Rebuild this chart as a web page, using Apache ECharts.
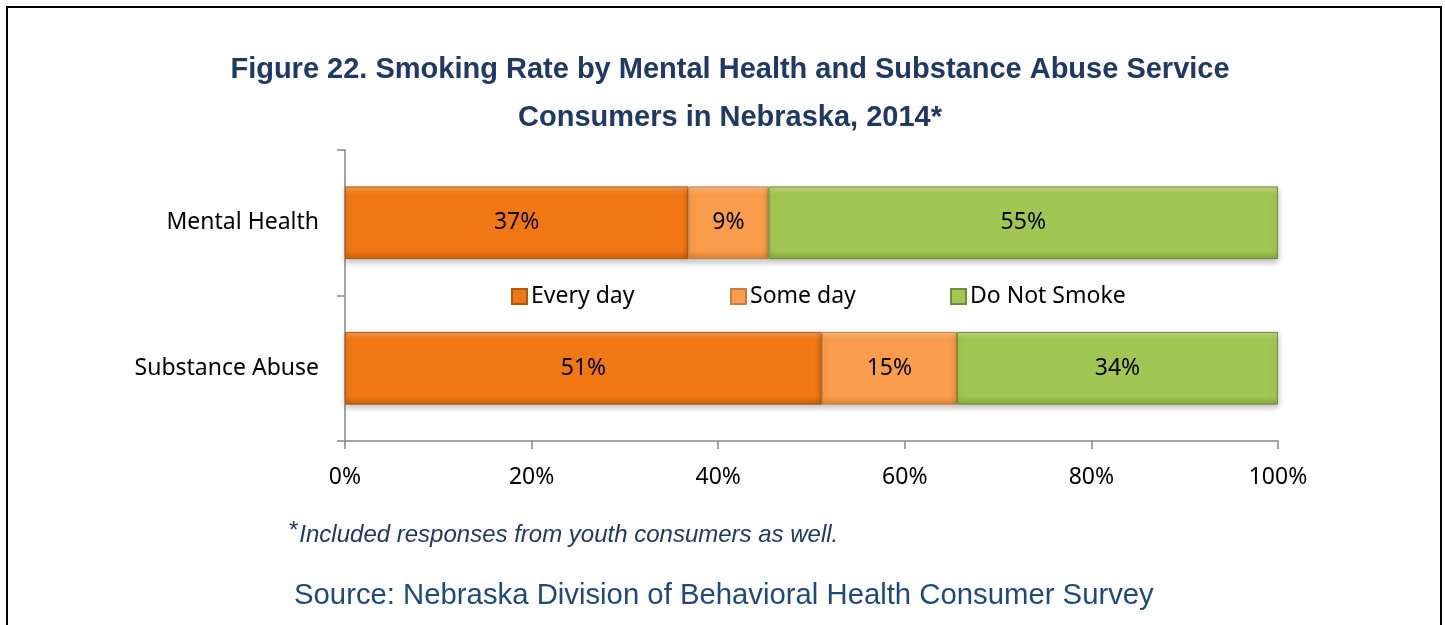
<!DOCTYPE html>
<html>
<head>
<meta charset="utf-8">
<script src="https://cdn.jsdelivr.net/npm/echarts@6/dist/echarts.min.js"></script>
<style>
html,body{margin:0;padding:0;background:#fff;}
#chart{width:1445px;height:625px;}
</style>
</head>
<body>
<div id="chart"></div>
<script>
const categories = ['Mental Health', 'Substance Abuse'];
const seriesNames = ['Every day', 'Some day', 'Do Not Smoke'];
const everyDay = [36.8, 51.1];
const someDay = [8.6, 14.5];
const doNotSmoke = [54.6, 34.4];
const xTicks = [0, 20, 40, 60, 80, 100];

const titleLines = ['Figure 22. Smoking Rate by Mental Health and Substance Abuse Service', 'Consumers in Nebraska, 2014*'];
const footnote = 'Included responses from youth consumers as well.';
const sourceText = 'Source: Nebraska Division of Behavioral Health Consumer Survey';

const FONT = '"Noto Sans", "Open Sans", sans-serif';
const ARIAL = '"Liberation Sans", Arial, sans-serif';

function grad(top, mid, bottom) {
  return new echarts.graphic.LinearGradient(0, 0, 0, 1, [
    {offset: 0, color: top},
    {offset: 0.12, color: mid},
    {offset: 0.88, color: mid},
    {offset: 1, color: bottom}
  ]);
}
const styles = [
  {color: grad('#F6994A', '#F07714', '#C8600F'), borderColor: '#B4570E'},
  {color: grad('#FBB877', '#F99D4C', '#D9833B'), borderColor: '#C9803F'},
  {color: grad('#BEDA80', '#A2C653', '#86A843'), borderColor: '#6F8D36'}
];
const values = [everyDay, someDay, doNotSmoke];

const chart = echarts.init(document.getElementById('chart'));
const series = seriesNames.map((name, i) => ({
  name: name,
  type: 'bar',
  stack: 'total',
  barWidth: '50%',
  data: values[i],
  itemStyle: {
    color: styles[i].color,
    borderColor: styles[i].borderColor,
    borderWidth: 1,
    shadowColor: 'rgba(0,0,0,0.25)',
    shadowBlur: 6,
    shadowOffsetY: 3
  },
  label: {
    show: true,
    position: 'inside',
    color: '#000',
    fontFamily: FONT,
    fontSize: 23,
    padding: [5, 0, 0, 0],
    formatter: p => Math.round(p.value) + '%'
  }
}));

const legendLefts = [506, 725, 945];
const legends = seriesNames.map((name, i) => ({
  data: [name],
  left: legendLefts[i],
  top: 280,
  itemWidth: 15,
  itemHeight: 15,
  itemGap: 6,
  icon: 'rect',
  textStyle: {fontFamily: FONT, fontSize: 23, color: '#000', padding: [0, 0, 0, -1]}
}));

chart.setOption({
  animation: false,
  title: [{
    text: titleLines.join('\n'),
    left: 725,
    top: 41,
    textAlign: 'center',
    textStyle: {
      fontFamily: ARIAL,
      fontWeight: 'bold',
      fontSize: 29,
      lineHeight: 48,
      color: '#1F3864'
    }
  }],
  legend: legends,
  grid: {left: 345, right: 167, top: 150, bottom: 184, containLabel: false},
  xAxis: {
    type: 'value',
    min: 0,
    max: 100,
    interval: 20,
    axisLine: {show: true, lineStyle: {color: '#868686', width: 1.5}},
    axisTick: {show: true, length: 8, lineStyle: {color: '#868686', width: 1.5}},
    splitLine: {show: false},
    axisLabel: {
      margin: 25,
      fontFamily: FONT,
      fontSize: 23,
      color: '#000',
      formatter: v => (xTicks.indexOf(v) >= 0 ? v + '%' : '')
    }
  },
  yAxis: {
    type: 'category',
    inverse: true,
    data: categories,
    axisLine: {show: true, lineStyle: {color: '#868686', width: 1.5}},
    axisTick: {show: true, length: 8, alignWithLabel: false, lineStyle: {color: '#868686', width: 1.5}},
    axisLabel: {margin: 26, fontFamily: FONT, fontSize: 23, color: '#000', padding: [5, 0, 0, 0]}
  },
  series: series,
  graphic: [
    {
      type: 'rect',
      shape: {x: 7, y: 7, width: 1434, height: 660},
      style: {fill: 'none', stroke: '#000', lineWidth: 2},
      silent: true
    },
    {
      type: 'text',
      left: 289,
      top: 519,
      style: {
        text: '{s|*}{t|' + footnote + '}',
        rich: {
          s: {fontFamily: ARIAL, fontSize: 24, fill: '#1F3864', verticalAlign: 'top', padding: [0, 1, 8, 0]},
          t: {fontFamily: ARIAL, fontSize: 24, fontStyle: 'italic', fill: '#1F3864'}
        }
      }
    },
    {
      type: 'text',
      left: 294,
      top: 581,
      style: {
        text: sourceText,
        fontFamily: ARIAL,
        fontSize: 29.3,
        fill: '#1F497D'
      }
    }
  ]
});
</script>
</body>
</html>
